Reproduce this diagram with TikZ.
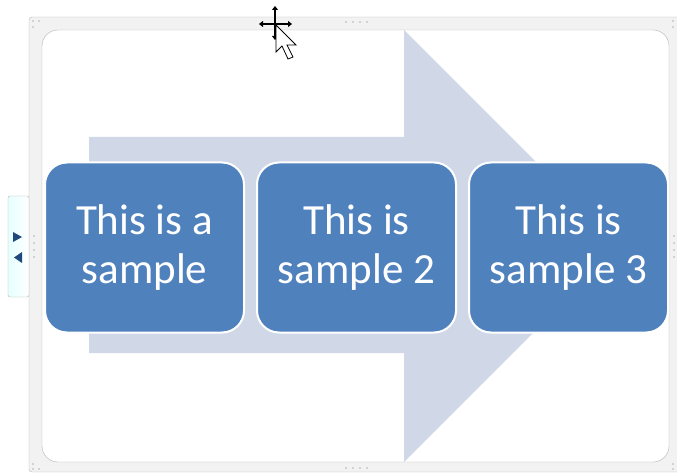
\documentclass[tikz,border=0pt]{standalone}
\usepackage{fontspec}
\setmainfont{Carlito}
\usetikzlibrary{positioning,arrows.meta}
\definecolor{boxblue}{HTML}{4F81BD}
\definecolor{arrowgrey}{HTML}{D0D8E8}
\definecolor{tabblue}{HTML}{1F497D}
\tikzset{
  sample/.style={draw=white,line width=2pt,fill=boxblue,rounded corners=22pt,
    minimum width=199pt,minimum height=170pt,align=center,text=white,
    font=\fontsize{43}{49}\selectfont},
  grip/.style={fill=gray!60,radius=0.9pt},
  movetip/.tip={Triangle[length=4pt,width=6pt]}
}

\begin{document}
\begin{tikzpicture}[x=1pt,y=-1pt]
        \useasboundingbox (0,0) rectangle (677,473);
        \clip (0,0) rectangle (677,473);
        %% Frame
        \draw[gray!55,fill=gray!10,rounded corners=3pt] (29,17) rectangle (690,472);
        \draw[gray!60,fill=white,rounded corners=16pt] (42,30) rectangle (669,462);
        %% Arrow
        \fill[arrowgrey] (89,137) -- (404,137) -- (404,30) -- (620,246) -- (404,462) -- (404,353) -- (89,353) -- cycle;
        %% Boxes
        \node[sample] (s1) at (144.5,247.5) {This is a\\sample};
        \node[sample,right=11pt of s1] (s2) {This is\\sample 2};
        \node[sample,right=11pt of s2] (s3) {This is\\sample 3};
        %% Side tab
        \shadedraw[left color=cyan!10,right color=white,draw=gray!60,rounded corners=2pt] (8,196) rectangle (29,297);
        \fill[tabblue] (13,232) -- (22,237) -- (13,242) -- cycle;
        \fill[tabblue] (22,252) -- (14,257.5) -- (22,263) -- cycle;
        %% Grips
        \foreach \x in {346,353,360,367} {\fill[grip] (\x,22) circle; \fill[grip] (\x,468) circle;}
        \foreach \y in {236,243,250,257} {\fill[grip] (34,\y) circle; \fill[grip] (674,\y) circle;}
        \foreach \p in {(33,21),(39,21),(33,27),(33,464),(33,469),(39,469),(673,21),(673,27),(673,464),(673,469)} {\fill[grip] \p circle;}
        %% Cursor
        \draw[line width=1.2pt,movetip-movetip] (259,24) -- (292,24);
        \draw[line width=1.2pt,movetip-movetip] (275,6) -- (275,40);
        \filldraw[fill=white,draw=black,line width=0.8pt] (276,25) -- ++(0,27) -- ++(6,-6) -- ++(6,13) -- ++(5,-2) -- ++(-6,-12) -- ++(9,0) -- cycle;
\end{tikzpicture}
\end{document}
